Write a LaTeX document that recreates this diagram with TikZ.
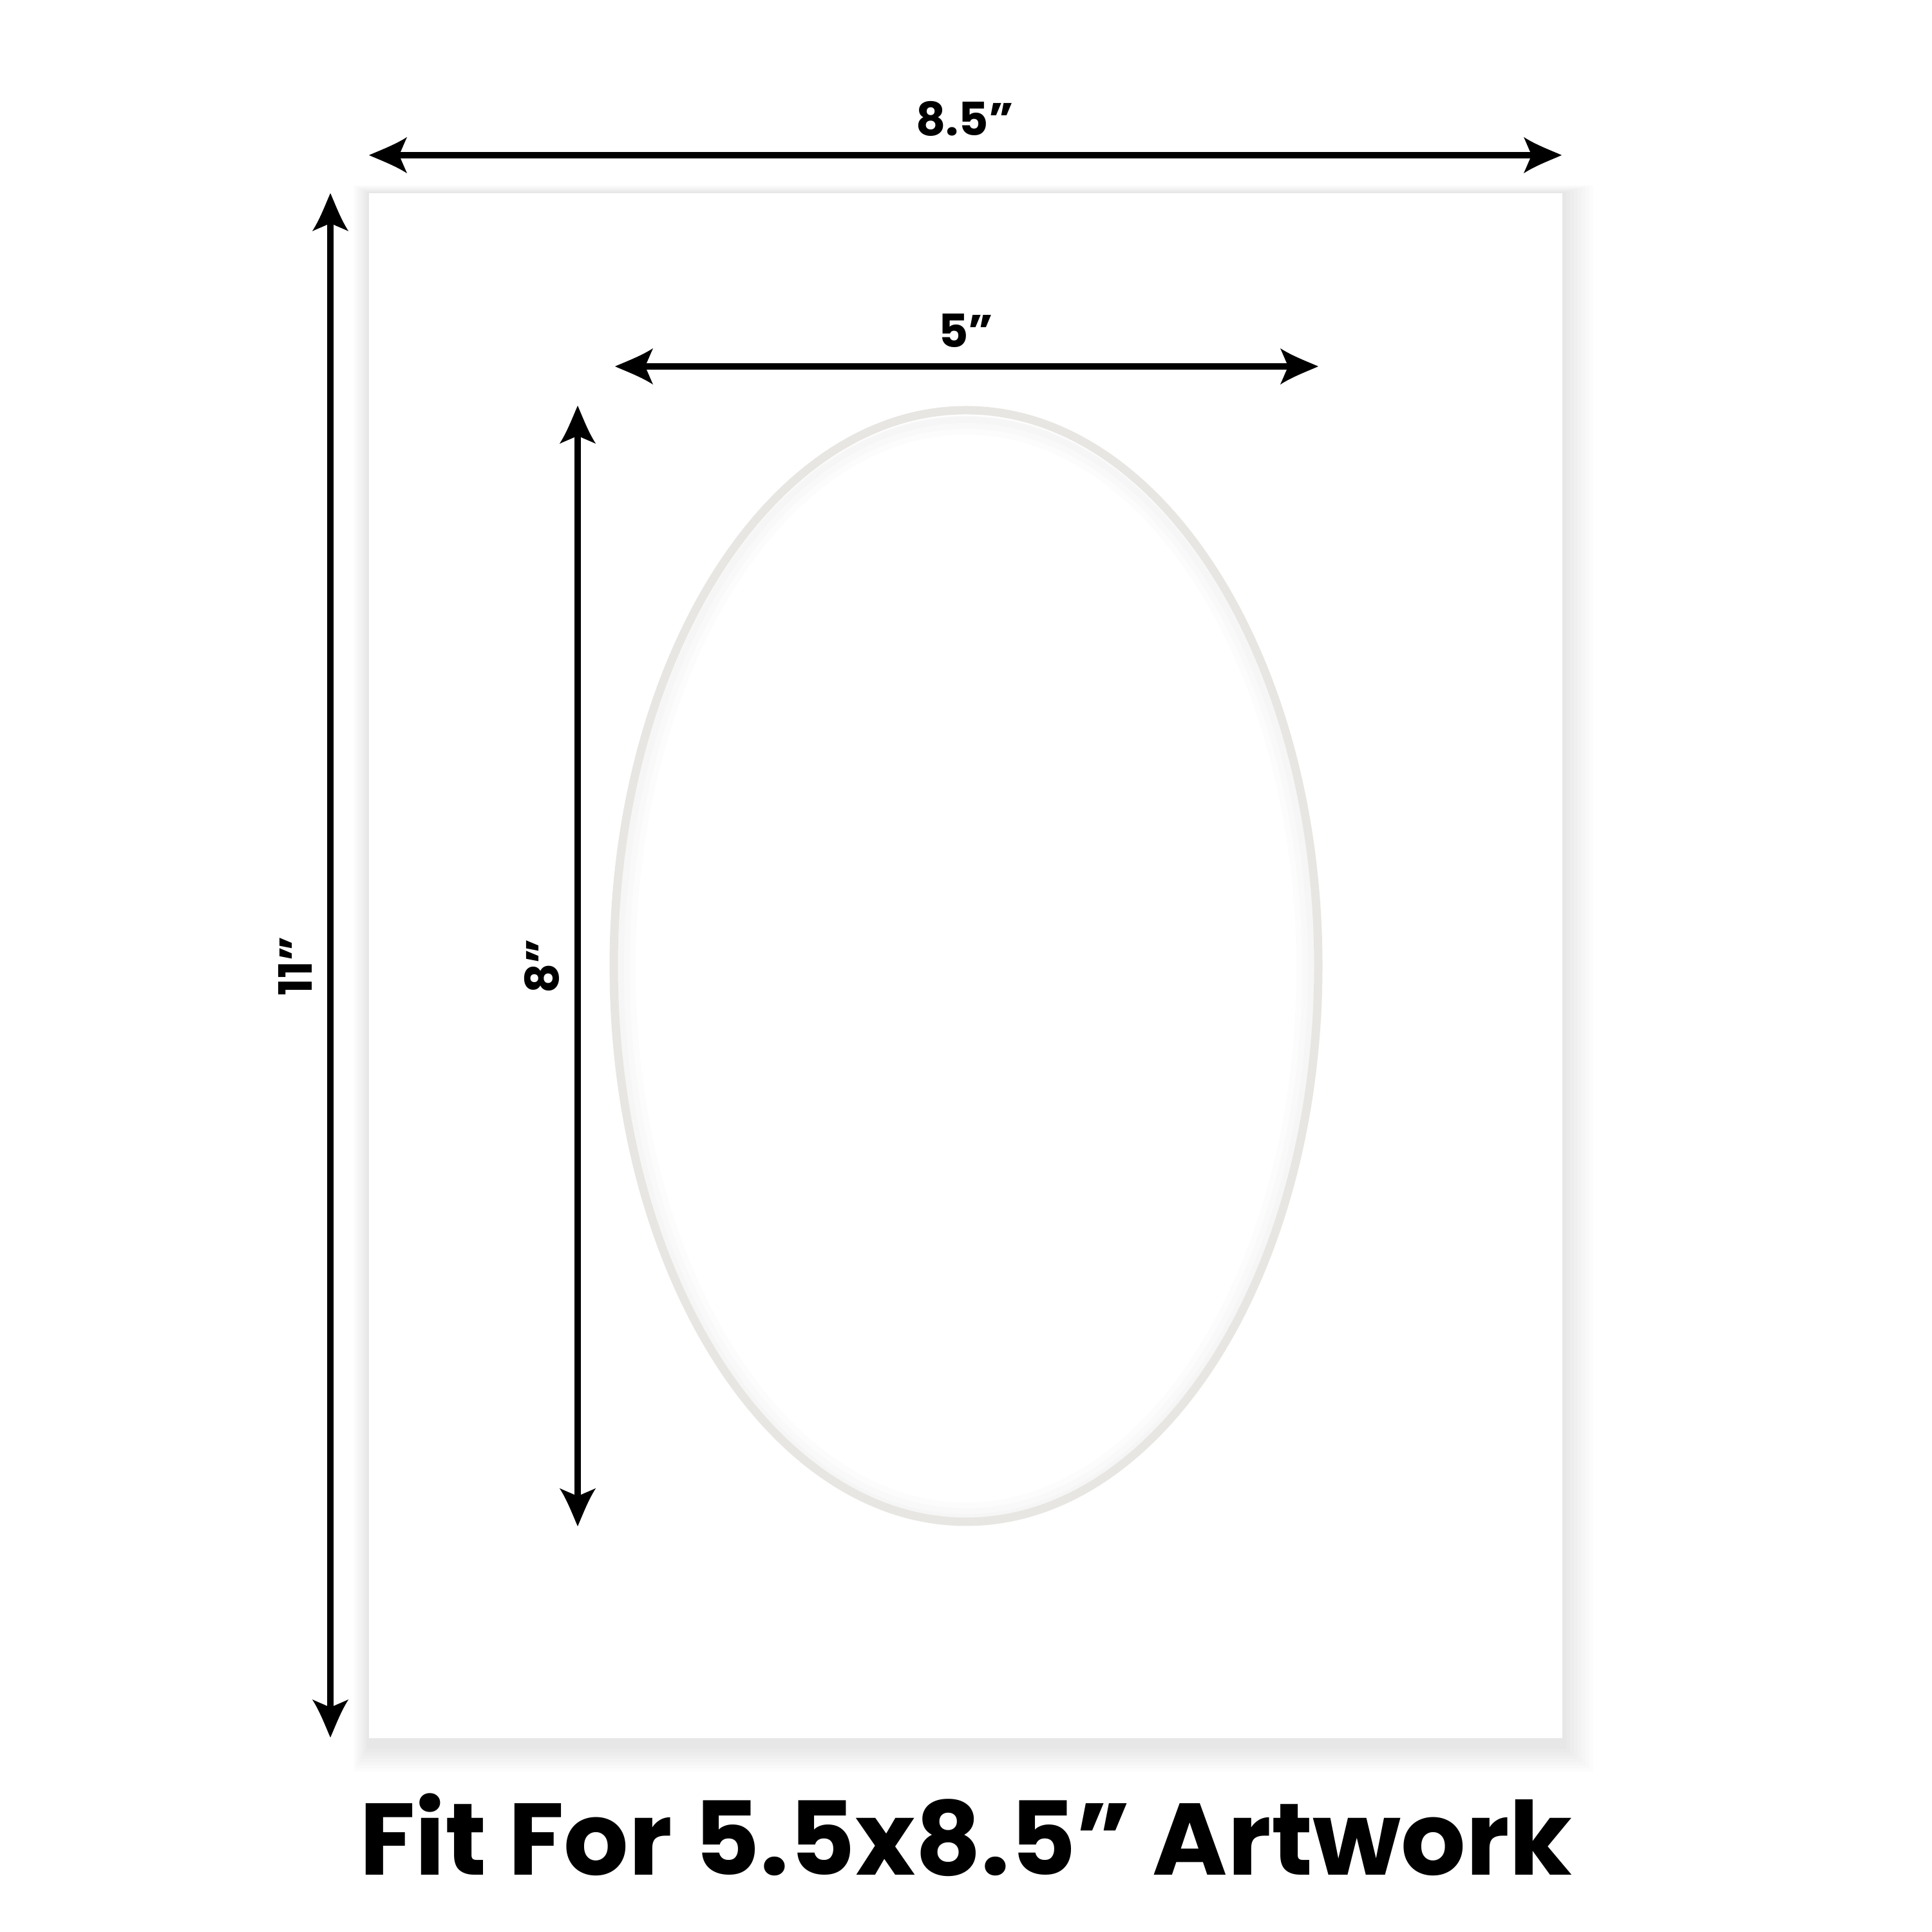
\documentclass[tikz,border=0pt]{standalone}
\usepackage{fontspec}
\setmainfont{Poppins}
\usetikzlibrary{positioning}

\definecolor{cutgrey}{RGB}{232,230,226}

% concave arrow head used on all dimension lines
\pgfdeclarearrow{
  name = Barb,
  setup code = {
    \pgfarrowssettipend{0pt}
    \pgfarrowssetlineend{-12pt}
    \pgfarrowssetbackend{-16.8pt}
    \pgfarrowssetvisualbackend{-13.6pt}
    \pgfarrowshullpoint{0pt}{0pt}
    \pgfarrowshullpoint{-16.8pt}{8pt}
    \pgfarrowshullpoint{-16.8pt}{-8pt}
  },
  drawing code = {
    \pgfpathmoveto{\pgfqpoint{0pt}{0pt}}
    \pgfpathcurveto{\pgfqpoint{-5pt}{2.2pt}}{\pgfqpoint{-11.5pt}{4.6pt}}{\pgfqpoint{-16.8pt}{8pt}}
    \pgfpathcurveto{\pgfqpoint{-15.2pt}{4.5pt}}{\pgfqpoint{-14.2pt}{1.8pt}}{\pgfqpoint{-13.2pt}{0pt}}
    \pgfpathcurveto{\pgfqpoint{-14.2pt}{-1.8pt}}{\pgfqpoint{-15.2pt}{-4.5pt}}{\pgfqpoint{-16.8pt}{-8pt}}
    \pgfpathcurveto{\pgfqpoint{-11.5pt}{-4.6pt}}{\pgfqpoint{-5pt}{-2.2pt}}{\pgfqpoint{0pt}{0pt}}
    \pgfpathclose
    \pgfusepathqfill
  }
}

\begin{document}
\begin{tikzpicture}[
        dimline/.style = {draw, line width=1.05mm, arrows={Barb-Barb}},
        dimlabel/.style = {font=\bfseries\fontsize{20.3}{24}\selectfont, inner sep=0pt, anchor=base},
        bigtext/.style = {font=\bfseries\fontsize{45}{52}\selectfont, inner sep=0pt, anchor=base}
    ]
        % Canvas
        \useasboundingbox (0,0) rectangle (30,30);
        \fill[white] (0,0) rectangle (30,30);

        % Mat board with soft shadow
        \foreach \s in {1,...,8}
            \fill[black, opacity=0.012] ({5.73-0.03*\s},{3.01-0.12-0.05*\s}) rectangle ({24.26+0.06*\s},{27.00+0.015*\s});
        \coordinate (matsw) at (5.73,3.01);
        \coordinate (matne) at (24.26,27.00);
        \fill[white] (matsw) rectangle (matne);

        % Oval opening
        \coordinate (oval) at (15.0,15.0);
        \foreach \s in {1,...,3}
            \draw[black, opacity=0.01, line width={0.1cm*\s}] ([yshift=-0.04cm]oval) ellipse ({5.40-0.04*\s} and {8.56-0.04*\s});
        \draw[cutgrey, line width=0.13cm] (oval) ellipse (5.47 and 8.63);

        % Dimension end points
        \coordinate (wl) at (5.73,27.59);
        \coordinate (wr) at (24.25,27.59);
        \coordinate (ht) at (5.13,27.00);
        \coordinate (hb) at (5.13,3.02);
        \coordinate (ol) at (9.55,24.31);
        \coordinate (or) at (20.47,24.31);
        \coordinate (ot) at (8.97,23.70);
        \coordinate (ob) at (8.97,6.30);

        % Dimension lines
        \draw[dimline] (wl) -- (wr);
        \draw[dimline] (ht) -- (hb);
        \draw[dimline] (ol) -- (or);
        \draw[dimline] (ot) -- (ob);

        % Labels
        \node[dimlabel] (matw) at (14.98,27.89) {8.5”};
        \node[dimlabel, rotate=90] (math) at (4.84,15.0) {11”};
        \node[dimlabel] (ovalw) at (15.0,24.60) {5”};
        \node[dimlabel, rotate=90] (ovalh) at (8.67,15.0) {8”};

        % Caption
        \node[bigtext] (caption) at (15.0,0.88) {Fit For 5.5x8.5” Artwork};
    \end{tikzpicture}
\end{document}
